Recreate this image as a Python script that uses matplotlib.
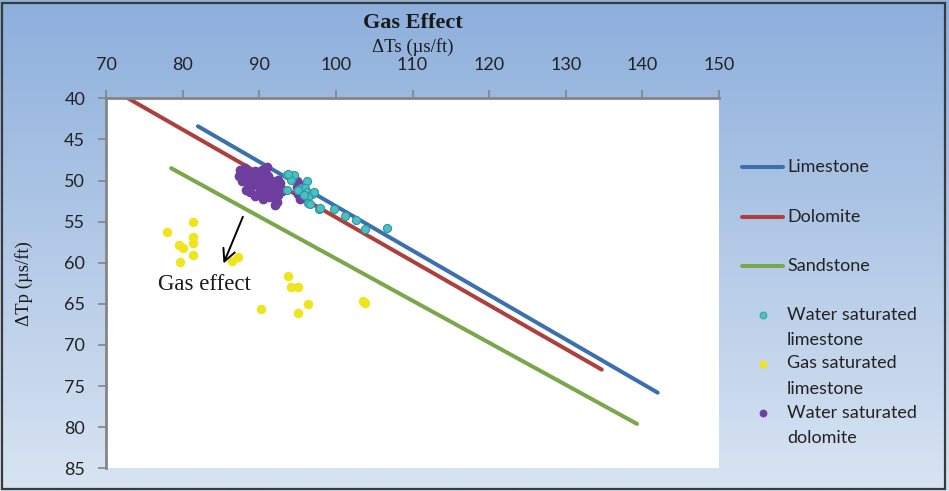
"""Gas effect crossplot: dTp vs dTs with lithology lines and sample points."""

import matplotlib
matplotlib.use("Agg")
import matplotlib.pyplot as plt
import numpy as np
from matplotlib.lines import Line2D
from matplotlib.patches import Rectangle

# Lithology lines (endpoints): dTs, dTp
limestone_ts = [82.0, 142.0]
limestone_tp = [43.4, 75.8]
dolomite_ts = [72.5, 134.7]
dolomite_tp = [39.8, 73.0]
sandstone_ts = [78.5, 139.3]
sandstone_tp = [48.5, 79.6]

# Water saturated limestone
wlime_ts = [93.6, 94.0, 94.6, 94.2, 93.8, 93.6, 96.2, 95.5, 96.0, 96.2, 96.9, 97.1,
            96.4, 96.4, 96.6, 97.8, 99.8, 101.2, 102.6, 103.8, 106.7, 95.1, 95.8, 97.9]
wlime_tp = [49.3, 49.5, 49.3, 49.9, 49.2, 51.2, 50.1, 50.9, 50.9, 51.4, 51.6, 51.4,
            52.0, 52.7, 52.8, 53.5, 53.5, 54.3, 54.8, 55.9, 55.8, 51.2, 51.8, 53.4]

# Gas saturated limestone
gas_ts = [77.9, 81.4, 81.4, 81.4, 79.5, 80.0, 81.4, 79.6, 87.2, 86.4,
          93.7, 94.1, 95.0, 96.4, 90.2, 95.0, 103.5, 103.8]
gas_tp = [56.3, 55.0, 56.9, 57.6, 57.9, 58.2, 59.0, 59.9, 59.3, 59.8,
          61.6, 62.9, 62.9, 65.0, 65.6, 66.1, 64.6, 64.9]

# Water saturated dolomite
wdol_ts = [87.5, 87.3, 87.9, 88.1, 88.6, 88.8, 89.5, 89.9, 89.7, 90.3, 90.1, 90.8,
           91.0, 91.2, 91.6, 91.8, 91.0, 92.1, 92.5, 92.5, 92.7, 91.4, 87.7, 88.8,
           89.9, 90.5, 94.9, 95.1, 95.3, 95.8, 94.9, 90.3, 89.0, 88.1, 92.3, 92.1,
           95.1, 92.7, 92.5, 88.3, 89.2, 90.6, 91.3, 89.4, 90.9, 88.4, 93.0]
wdol_tp = [48.7, 49.5, 49.3, 50.1, 50.9, 49.7, 48.9, 49.3, 50.3, 49.9, 50.9, 51.4,
           50.5, 49.5, 50.1, 50.9, 48.3, 52.2, 51.8, 50.8, 50.3, 51.8, 50.1, 51.4,
           51.6, 52.2, 50.8, 51.6, 52.2, 51.8, 50.1, 48.7, 49.1, 48.5, 52.6, 53.0,
           50.3, 50.9, 49.9, 51.2, 50.6, 51.0, 52.0, 51.9, 49.2, 49.0, 51.3]

C_LIME = "#3b6fae"
C_DOL = "#ae3f3d"
C_SAND = "#7ba74b"
C_WLIME = "#4bbfc3"
C_GAS = "#eee51c"
C_WDOL = "#6f3f9f"
SPINE = "#858585"

W, H = 949, 491
fig = plt.figure(figsize=(W / 100, H / 100), dpi=100)

# gradient background like the spreadsheet chart area
bg = fig.add_axes([0, 0, 1, 1], zorder=-10)
top = np.array([0x8d, 0xaf, 0xdc]) / 255
bot = np.array([0xd8, 0xe4, 0xf2]) / 255
t = np.linspace(0, 1, 256)[:, None]
grad = (top * (1 - t) + bot * t)[:, None, :]
bg.imshow(grad, aspect="auto", extent=[0, 1, 0, 1])
bg.set_axis_off()
fig.patches.append(Rectangle((0.002, 0.004), 0.994, 0.99, transform=fig.transFigure,
                             fill=False, edgecolor="#3a3a3a", linewidth=1.6))

ax = fig.add_axes([106 / W, 1 - 468.3 / H, (719 - 106) / W, (468.3 - 98.3) / H])
ax.set_facecolor("white")

line_kw = dict(lw=2.9, solid_capstyle="round")
ax.plot(limestone_ts, limestone_tp, color=C_LIME, **line_kw)
ax.plot(dolomite_ts, dolomite_tp, color=C_DOL, **line_kw)
ax.plot(sandstone_ts, sandstone_tp, color=C_SAND, **line_kw)

ax.scatter(wdol_ts, wdol_tp, s=36, color=C_WDOL, zorder=3)
ax.scatter(wlime_ts, wlime_tp, s=34, color=C_WLIME, edgecolors="#2c9aa0", linewidths=0.8, zorder=4)
ax.scatter(gas_ts, gas_tp, s=34, color=C_GAS, zorder=3)

ax.annotate("", xy=(85.2, 60.4), xytext=(88.0, 54.1),
            arrowprops=dict(arrowstyle="->", color="black", lw=1.4, mutation_scale=22))
ax.text(82.9, 62.7, "Gas effect", ha="center", va="center",
        family="Liberation Serif", fontsize=16.5, color="#1a1a1a")

ax.set_xlim(70, 150)
ax.set_ylim(85, 40)
ax.set_xticks(np.arange(70, 151, 10))
ax.set_yticks(np.arange(40, 86, 5))
ax.xaxis.tick_top()
ax.tick_params(axis="both", direction="out", length=6, width=1.2, color=SPINE,
               labelsize=13, labelcolor="#222222")
ax.tick_params(axis="y", pad=9)
ax.tick_params(axis="x", pad=12)
for lab in ax.get_xticklabels() + ax.get_yticklabels():
    lab.set_family("Lato")
for side in ("bottom", "right"):
    ax.spines[side].set_visible(False)
for side in ("top", "left"):
    ax.spines[side].set_color(SPINE)
    ax.spines[side].set_linewidth(2)

ax.set_title("Gas Effect", family="Liberation Serif", fontweight="bold",
             fontsize=16, y=1.19, pad=0, color="#1a1a1a")
ax.xaxis.set_label_position("top")
ax.set_xlabel("ΔTs (µs/ft)", family="Liberation Serif", fontsize=13.5, color="#1a1a1a")
ax.xaxis.set_label_coords(0.5, 1.125)
ax.set_ylabel("ΔTp (µs/ft)", family="Liberation Serif", fontsize=13.5, color="#1a1a1a")
ax.yaxis.set_label_coords(-0.119, 0.5)

# legend drawn by hand so multi-line labels keep their marker on the first line
def fx(px):
    return px / W


def fy(py):
    return 1 - py / H


leg_font = dict(family="Lato", fontsize=13, color="#222222", va="center", ha="left")
for name, col, py in [("Limestone", C_LIME, 167.3), ("Dolomite", C_DOL, 216.7),
                      ("Sandstone", C_SAND, 266.0)]:
    fig.add_artist(Line2D([fx(742), fx(783)], [fy(py), fy(py)], transform=fig.transFigure,
                          color=col, lw=2.9, solid_capstyle="round"))
    fig.text(fx(787), fy(py), name, **leg_font)

for lines, col, ec, py in [(("Water saturated", "limestone"), C_WLIME, "#2c9aa0", 315.0),
                           (("Gas saturated", "limestone"), C_GAS, C_GAS, 363.5),
                           (("Water saturated", "dolomite"), C_WDOL, C_WDOL, 413.0)]:
    fig.add_artist(Line2D([fx(762.5)], [fy(py)], transform=fig.transFigure, marker="o",
                          markersize=5, color=col, markeredgecolor=ec, markeredgewidth=0.6))
    fig.text(fx(787), fy(py), lines[0], **leg_font)
    fig.text(fx(787), fy(py + 25), lines[1], **leg_font)

fig.savefig("out.png", dpi=100)
